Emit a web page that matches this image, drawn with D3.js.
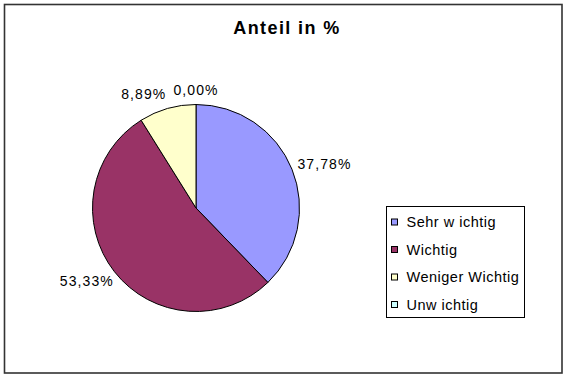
<!DOCTYPE html>
<html>
<head>
<meta charset="utf-8">
<script src="https://cdn.jsdelivr.net/npm/d3@7"></script>
<style>
  html, body { margin: 0; padding: 0; background: #fff; }
  svg { display: block; font-family: "Liberation Sans", Arial, sans-serif; }
</style>
</head>
<body>
<svg id="chart" width="567" height="378"></svg>
<script>
// Chart data
const title = "Anteil in %";
const categories = ["Sehr w ichtig", "Wichtig", "Weniger Wichtig", "Unw ichtig"];
const shares = [37.78, 53.33, 8.89, 0.00];
const colors = ["#9999FF", "#993366", "#FFFFCC", "#CCFFFF"];

const svg = d3.select("#chart");
const W = 567, H = 378;

// Outer frame
svg.append("rect")
  .attr("x", 4.5).attr("y", 4.5)
  .attr("width", W - 9.5).attr("height", H - 9.5)
  .attr("fill", "#fff")
  .attr("stroke", "#333").attr("stroke-width", 1.6);

// Title
svg.append("text")
  .attr("x", 287).attr("y", 34)
  .attr("text-anchor", "middle")
  .attr("font-size", 18).attr("font-weight", "bold")
  .attr("letter-spacing", 1.4)
  .text(title);

// Pie
const cx = 196, cy = 208, r = 103.5;
const data = categories.map((c, i) => ({ name: c, value: shares[i], color: colors[i] }));
const pie = d3.pie().sort(null).value(d => d.value);
const arcs = pie(data);
const arc = d3.arc().innerRadius(0).outerRadius(r);

const g = svg.append("g").attr("transform", `translate(${cx},${cy})`);
g.selectAll("path.slice")
  .data(arcs.filter(a => a.endAngle > a.startAngle))
  .join("path")
  .attr("class", "slice")
  .attr("d", arc)
  .attr("fill", d => d.data.color)
  .attr("stroke", "#000").attr("stroke-width", 1);

// Percentage labels outside the pie
const fmt = v => v.toFixed(2).replace(".", ",") + "%";
const labelSize = 14, gap = 8, halfH = 7;
const labels = arcs.map(a => {
  const mid = (a.startAngle + a.endAngle) / 2;
  const s = Math.sin(mid), c = -Math.cos(mid);
  const t = g.append("text")
    .attr("font-size", labelSize)
    .attr("letter-spacing", 1.1)
    .attr("fill", "#000")
    .text(fmt(a.data.value));
  const w = t.node().getBBox().width;
  const centerX = (r + gap + w / 2) * s;
  const centerY = (r + gap + halfH) * c;
  return { t, w, left: centerX - w / 2, cy: centerY };
});
// Push labels apart where neighbours collide (walk backwards from the last slice)
for (let i = labels.length - 2; i >= 0; i--) {
  const a = labels[i], b = labels[i + 1];
  const vOverlap = Math.abs(a.cy - b.cy) < 2 * halfH;
  if (vOverlap && a.left + a.w + 7 > b.left && a.left < b.left) {
    a.left = b.left - 7 - a.w;
  }
}
labels.forEach(l => l.t.attr("x", l.left).attr("y", l.cy + 5));

// Legend
const lx = 386, ly = 206, lw = 138, lh = 111;
const legend = svg.append("g");
legend.append("rect")
  .attr("x", lx + 0.5).attr("y", ly + 0.5)
  .attr("width", lw).attr("height", lh)
  .attr("fill", "#fff").attr("stroke", "#000").attr("stroke-width", 1);

const rowY = d3.scalePoint().domain(categories).range([ly + 16, ly + 98.5]);
const rows = legend.selectAll("g.row").data(data).join("g")
  .attr("class", "row")
  .attr("transform", d => `translate(${lx}, ${rowY(d.name)})`);
rows.append("rect")
  .attr("x", 5.5).attr("y", -3)
  .attr("width", 6).attr("height", 6)
  .attr("fill", d => d.color)
  .attr("stroke", "#000").attr("stroke-width", 1);
rows.append("text")
  .attr("x", 20.5).attr("y", 5)
  .attr("font-size", 14.5)
  .attr("letter-spacing", 0.5)
  .text(d => d.name);
</script>
</body>
</html>
